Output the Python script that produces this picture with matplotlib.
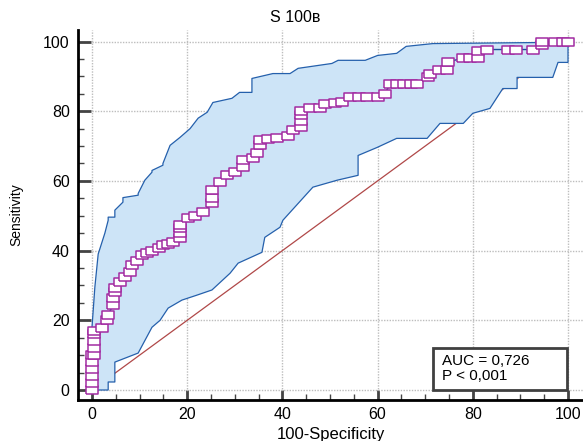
import matplotlib.pyplot as plt
from matplotlib.patches import Rectangle
from matplotlib.ticker import MultipleLocator

plt.rcParams["font.family"] = ["Liberation Sans", "DejaVu Sans"]

# ROC curve points (100-Specificity, Sensitivity)
roc_x = [0, 0, 0, 0, 0, 0, 0.5, 0.5, 0.5, 0.5, 0.5, 2.1, 3.1, 3.4, 4.4, 4.4, 4.8, 4.8,
         5.9, 7, 8, 8.4, 9.5, 10.5, 11.5, 12.6, 14, 15, 16, 17, 18.5, 18.5, 18.5, 18.5,
         20.2, 21.6, 23.3, 25.2, 25.2, 25.2, 26.9, 28.4, 30, 31.7, 31.7, 33.8, 34.7,
         35.3, 35.3, 37, 38.9, 41.2, 42.2, 44, 44, 44, 44, 45.8, 47.9, 49, 51, 52.5,
         54.2, 56, 57.8, 60, 61.5, 62.6, 64, 65.5, 67, 68.3, 70.6, 71, 73, 74.6, 74.8,
         78, 79.5, 81, 81, 83, 87.4, 89, 92.6, 94.5, 94.5, 97.3, 99, 100]
roc_y = [0, 2, 4, 6, 8, 10, 10, 12, 14, 16, 17, 17.8, 20, 21.5, 24.4, 26.4, 28, 29.2,
         31, 32.4, 33.8, 35.8, 37, 38.7, 39.3, 40, 40.7, 41.5, 42, 42.5, 43.5, 45, 46.5, 47.3,
         49.3, 50, 51, 53.6, 55, 57.3, 59.6, 61.6, 62.5, 63.9, 65.9, 66.5, 67.9,
         70.2, 71.6, 72, 72.2, 73, 74.5, 75.4, 77.2, 78.8, 80.2, 80.8, 80.8, 82, 82.3, 82.5,
         84, 84, 84, 84, 85, 87.7, 87.7, 87.7, 87.7, 87.7, 89.7, 90.8, 91.7, 91.7, 94,
         95.4, 95.4, 95.4, 97.4, 97.7, 97.7, 97.7, 97.7, 98.9, 100, 100, 100, 100]

# 95% confidence band
upper_x = [0, 0, 0.6, 1.3, 2.7, 3.4, 3.4, 4.8, 4.8, 6.5, 6.5, 9.7, 9.7, 11.1, 12.6, 12.6,
           14.9, 14.9, 16.4, 18.5, 20.6, 22.3, 24.2, 25.4, 29.4, 31, 33.6, 33.6, 38, 41.6,
           43.3, 50.4, 51.7, 57.4, 60, 64, 66, 71.6, 93.5, 100]
upper_y = [0, 18, 29.5, 39, 45, 48.7, 49.6, 49.6, 51.6, 53.9, 55.2, 55.9, 56.4, 60.2, 62.5, 63,
           64.5, 65, 70.2, 72.5, 75, 78, 79.7, 82.5, 83.7, 85.4, 85.4, 89.4, 90.8, 90.8,
           92.3, 93.7, 94.6, 94.6, 96, 96.6, 98.6, 99.4, 99.7, 100]
lower_x = [0, 3.4, 3.4, 4.8, 4.8, 9.7, 12.6, 14.3, 16, 18.9, 22, 25.2, 29, 30.7, 35.7, 36.3,
           39.5, 40.1, 46.4, 51.5, 55.9, 55.9, 59.9, 64, 70.4, 73.1, 78, 80, 83.6, 86.3,
           89.3, 89.3, 96.8, 97.9, 100, 100]
lower_y = [0, 0, 2.3, 2.3, 8, 10.6, 18, 20, 23.5, 25.8, 27.2, 28.7, 33.5, 36.4, 39.5, 43.8,
           46.7, 48.7, 58.2, 60.2, 61.6, 67.3, 69.6, 72.2, 72.2, 76.5, 76.5, 79.4, 80.8, 86.5,
           86.5, 89.7, 89.7, 94, 94, 100]

auc_text = "AUC = 0,726\nP < 0,001"

fig = plt.figure(figsize=(5.83, 4.41), dpi=100)
ax = fig.add_axes([78 / 583, 41 / 441, 505 / 583, 370 / 441])

ax.set_xlim(-2.94, 103.15)
ax.set_ylim(-2.87, 103.3)

ax.grid(True, which="major", color="#bdbdbd", linestyle=(0, (1, 1)), linewidth=1.0)
ax.set_axisbelow(True)

# diagonal reference line
ax.plot([0, 100], [0, 100], color="#b04848", linewidth=0.9, zorder=1.2)

# confidence band
ax.fill(upper_x + lower_x[::-1], upper_y + lower_y[::-1],
        color="#cde4f7", linewidth=0, zorder=1.5)
ax.plot(upper_x, upper_y, color="#2560ac", linewidth=0.9, zorder=1.6)
ax.plot(lower_x, lower_y, color="#2560ac", linewidth=0.9, zorder=1.6)

# ROC curve with open rectangular markers
rect = [(-0.7, -0.5), (0.7, -0.5), (0.7, 0.5), (-0.7, 0.5), (-0.7, -0.5)]
ax.plot(roc_x, roc_y, color="#1c4f9c", linewidth=1.0, marker=rect, markersize=8.5,
        markerfacecolor="white", markeredgecolor="#a22ca2", markeredgewidth=1.1, zorder=3)

# AUC box
ax.add_patch(Rectangle((71.6, 0), 28.2, 12, facecolor="white", edgecolor="#404040",
                       linewidth=2, zorder=4))
ax.text(73.6, 6.2, auc_text, fontsize=11, va="center", ha="left",
        linespacing=1.1, zorder=5)

for s in ["top", "right"]:
    ax.spines[s].set_visible(False)
for s in ["left", "bottom"]:
    ax.spines[s].set_linewidth(2)

ax.xaxis.set_major_locator(MultipleLocator(20))
ax.xaxis.set_minor_locator(MultipleLocator(5))
ax.yaxis.set_major_locator(MultipleLocator(20))
ax.yaxis.set_minor_locator(MultipleLocator(5))
ax.tick_params(axis="y", which="major", direction="in", length=9.5, width=2,
               color="#444444", labelsize=11.5, pad=6)
ax.tick_params(axis="y", which="minor", direction="in", length=4.5, width=1, color="#444444")
ax.tick_params(axis="x", which="major", direction="in", length=7, width=2,
               color="#444444", labelsize=11.5, pad=5)
ax.tick_params(axis="x", which="minor", direction="in", length=4, width=1, color="#444444")

ax.set_xlabel("100-Specificity", fontsize=12)
ax.xaxis.set_label_coords(0.5, -0.073)
ax.set_ylabel("Sensitivity", fontsize=10)
ax.yaxis.set_label_coords(-0.109, 0.5)

fig.text(295 / 583, 1 - 17 / 441, "S 100в", fontsize=11.5, ha="center", va="center")

fig.savefig("out.png", dpi=100)
